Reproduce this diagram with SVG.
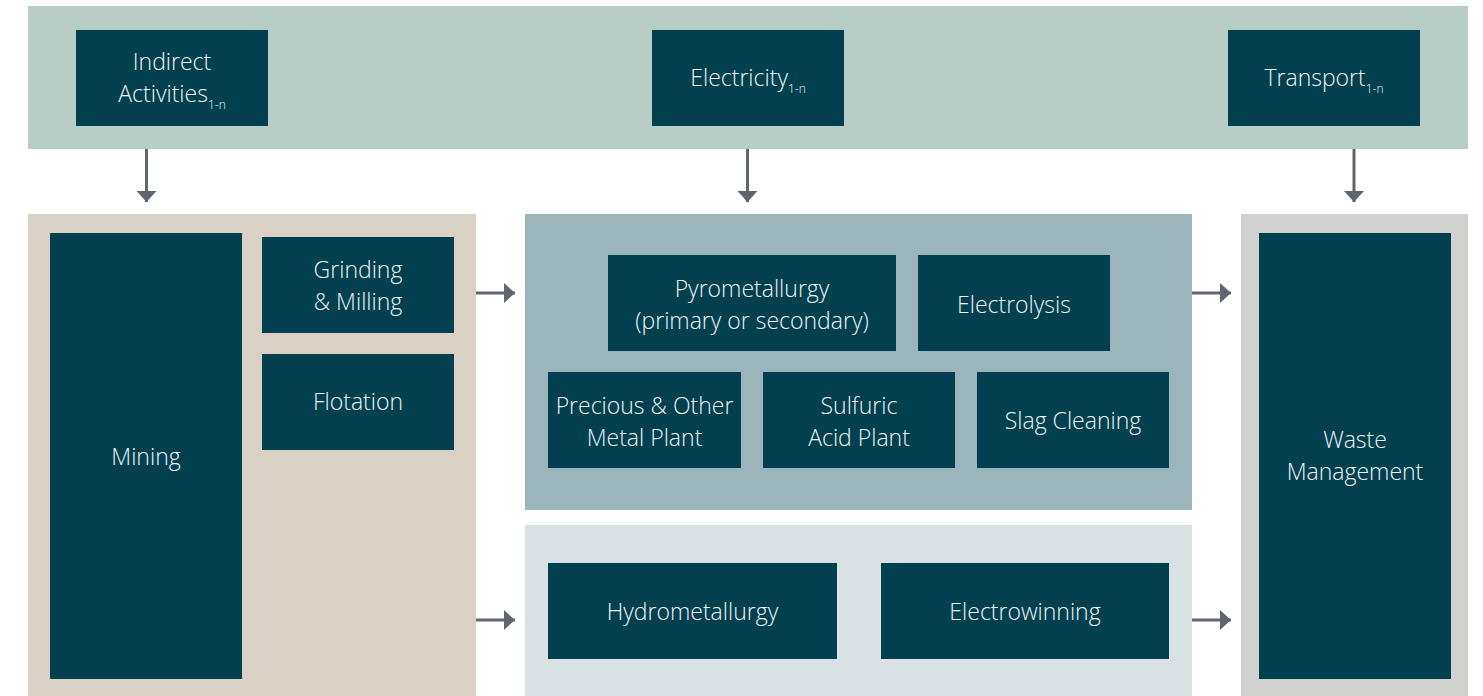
<svg xmlns="http://www.w3.org/2000/svg" width="1483" height="696" viewBox="0 0 1483 696">
<style>
.node{fill:#02404f}
.t{font-family:"Open Sans","Noto Sans","Liberation Sans",sans-serif;font-weight:300;font-size:23px;fill:#eef3f4;text-anchor:middle}
.sub{font-size:12px}
.c{stroke:#5f666d;stroke-width:3;fill:none}
</style>
<defs>
<marker id="ah" markerWidth="11" markerHeight="20" refX="11" refY="10" orient="auto" markerUnits="userSpaceOnUse">
<path d="M0,0 L11,10 L0,20 Z" fill="#5f666d"/>
</marker>
</defs>
<rect width="1483" height="696" fill="#ffffff"/>
<g id="panels">
<rect x="28" y="6" width="1440" height="143" fill="#b8cdc5"/>
<rect x="28" y="214" width="448" height="482" fill="#d9d0c6"/>
<rect x="525" y="214" width="667" height="296" fill="#9bb5bb"/>
<rect x="525" y="525" width="667" height="171" fill="#d8e2e4"/>
<rect x="1241" y="214" width="227" height="482" fill="#d1d2d0"/>
</g>
<g id="connectors">
<line class="c" x1="146.5" y1="149" x2="146.5" y2="202" marker-end="url(#ah)"/>
<line class="c" x1="747.5" y1="149" x2="747.5" y2="202" marker-end="url(#ah)"/>
<line class="c" x1="1354" y1="149" x2="1354" y2="202" marker-end="url(#ah)"/>
<line class="c" x1="476" y1="293" x2="515" y2="293" marker-end="url(#ah)"/>
<line class="c" x1="1192" y1="293" x2="1231" y2="293" marker-end="url(#ah)"/>
<line class="c" x1="476" y1="620" x2="515" y2="620" marker-end="url(#ah)"/>
<line class="c" x1="1192" y1="620" x2="1231" y2="620" marker-end="url(#ah)"/>
</g>
<g id="indirect"><rect class="node" x="76" y="30" width="192" height="96"/>
<text class="t" x="172" y="70">Indirect</text>
<text class="t" x="172" y="102">Activities<tspan class="sub" dy="7">1-n</tspan></text></g>
<g id="electricity"><rect class="node" x="652" y="30" width="192" height="96"/>
<text class="t" x="748" y="86">Electricity<tspan class="sub" dy="7">1-n</tspan></text></g>
<g id="transport"><rect class="node" x="1228" y="30" width="192" height="96"/>
<text class="t" x="1324" y="86">Transport<tspan class="sub" dy="7">1-n</tspan></text></g>
<g id="mining"><rect class="node" x="50" y="233" width="192" height="446"/>
<text class="t" x="146" y="465">Mining</text></g>
<g id="grinding"><rect class="node" x="262" y="237" width="192" height="96"/>
<text class="t" x="358" y="278">Grinding</text>
<text class="t" x="358" y="310">&amp; Milling</text></g>
<g id="flotation"><rect class="node" x="262" y="354" width="192" height="96"/>
<text class="t" x="358" y="410">Flotation</text></g>
<g id="pyro"><rect class="node" x="608" y="255" width="288" height="96"/>
<text class="t" x="752" y="297">Pyrometallurgy</text>
<text class="t" x="752" y="329">(primary or secondary)</text></g>
<g id="electrolysis"><rect class="node" x="918" y="255" width="192" height="96"/>
<text class="t" x="1014" y="313">Electrolysis</text></g>
<g id="precious"><rect class="node" x="548" y="372" width="193" height="96"/>
<text class="t" x="644.5" y="414">Precious &amp; Other</text>
<text class="t" x="644.5" y="446">Metal Plant</text></g>
<g id="sulfuric"><rect class="node" x="763" y="372" width="192" height="96"/>
<text class="t" x="859" y="414">Sulfuric</text>
<text class="t" x="859" y="446">Acid Plant</text></g>
<g id="slag"><rect class="node" x="977" y="372" width="192" height="96"/>
<text class="t" x="1073" y="429">Slag Cleaning</text></g>
<g id="hydro"><rect class="node" x="548" y="563" width="289" height="96"/>
<text class="t" x="692.5" y="620">Hydrometallurgy</text></g>
<g id="electrowinning"><rect class="node" x="881" y="563" width="288" height="96"/>
<text class="t" x="1025" y="620">Electrowinning</text></g>
<g id="waste"><rect class="node" x="1259" y="233" width="192" height="446"/>
<text class="t" x="1355" y="448">Waste</text>
<text class="t" x="1355" y="480">Management</text></g>
</svg>
